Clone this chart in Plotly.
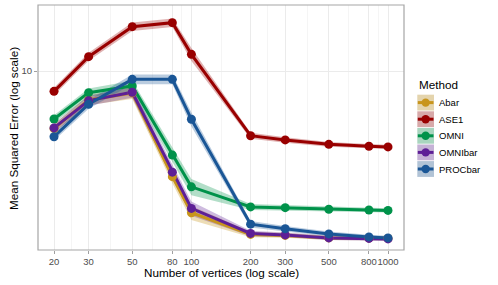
import plotly.graph_objects as go
import math

# ---------------- data ----------------
vertices = [20, 30, 50, 80, 100, 200, 300, 500, 800, 1000]
methods = ["Abar", "ASE1", "OMNI", "OMNIbar", "PROCbar"]

mse_abar    = [5.89, 7.66, 8.17, 3.78, 2.71, 2.22, 2.20, 2.15, 2.145, 2.14]
mse_ase1    = [8.29, 11.41, 15.04, 15.61, 11.66, 5.51, 5.30, 5.09, 5.00, 4.97]
mse_omni    = [6.43, 8.19, 8.71, 4.61, 3.44, 2.86, 2.84, 2.80, 2.78, 2.77]
mse_omnibar = [5.92, 7.61, 8.22, 3.94, 2.82, 2.24, 2.21, 2.15, 2.14, 2.13]
mse_procbar = [5.46, 7.36, 9.26, 9.26, 6.41, 2.44, 2.34, 2.23, 2.17, 2.15]

# relative half-width of the confidence ribbon
ci_abar    = [0.04, 0.045, 0.055, 0.06, 0.065, 0.025, 0.022, 0.02, 0.02, 0.02]
ci_ase1    = [0.035, 0.037, 0.04, 0.04, 0.06, 0.028, 0.025, 0.022, 0.02, 0.02]
ci_omni    = [0.035, 0.04, 0.05, 0.065, 0.075, 0.028, 0.025, 0.022, 0.02, 0.02]
ci_omnibar = [0.04, 0.045, 0.05, 0.06, 0.065, 0.025, 0.022, 0.02, 0.02, 0.02]
ci_procbar = [0.035, 0.04, 0.045, 0.045, 0.065, 0.03, 0.025, 0.022, 0.02, 0.02]

x_ticks = [20, 30, 50, 80, 100, 200, 300, 500, 800, 1000]
x_ticktext = ["20", "30", "50", "80", "100", "200", "300", "500", "800", "1000"]
y_ticks = [10]
y_ticktext = ["10"]

colors = {
    "Abar": "#C8951C",
    "ASE1": "#990000",
    "OMNI": "#00924A",
    "OMNIbar": "#5E1F96",
    "PROCbar": "#1A5696",
}
ribbon_rgba = {
    "Abar": "rgba(200,149,28,0.32)",
    "ASE1": "rgba(153,0,0,0.30)",
    "OMNI": "rgba(0,146,74,0.30)",
    "OMNIbar": "rgba(94,31,150,0.30)",
    "PROCbar": "rgba(26,86,150,0.30)",
}
series = {
    "Abar": (mse_abar, ci_abar),
    "ASE1": (mse_ase1, ci_ase1),
    "OMNI": (mse_omni, ci_omni),
    "OMNIbar": (mse_omnibar, ci_omnibar),
    "PROCbar": (mse_procbar, ci_procbar),
}

FONT = "Liberation Sans, Arial, sans-serif"
W, H = 498, 285
L, R, T, B = 38, 404, 5, 250

def px_x(p):
    return (p - L) / (R - L)

def px_y(p):
    return (B - p) / (B - T)

fig = go.Figure()

# ribbons
for m in methods:
    v, c = series[m]
    hi = [a * (1 + e) for a, e in zip(v, c)]
    lo = [a * (1 - e) for a, e in zip(v, c)]
    fig.add_trace(go.Scatter(
        x=vertices + vertices[::-1], y=hi + lo[::-1],
        fill="toself", fillcolor=ribbon_rgba[m], line=dict(width=0),
        mode="lines", hoverinfo="skip", showlegend=False))

# lines
for m in methods:
    v, _ = series[m]
    fig.add_trace(go.Scatter(x=vertices, y=v, mode="lines",
                             line=dict(color=colors[m], width=3),
                             showlegend=False, name=m))
# points
for m in methods:
    v, _ = series[m]
    fig.add_trace(go.Scatter(x=vertices, y=v, mode="markers",
                             marker=dict(color=colors[m], size=9),
                             showlegend=False, name=m))

minor_vals = [math.sqrt(a * b) for a, b in zip(x_ticks[:-1], x_ticks[1:])]

fig.update_xaxes(
    type="log", range=[1.2196, 3.0814],
    tickmode="array", tickvals=x_ticks, ticktext=x_ticktext, tickangle=0,
    automargin=False,
    showgrid=True, gridcolor="#ebebeb", gridwidth=1,
    minor=dict(tickmode="array", tickvals=minor_vals, showgrid=True,
               gridcolor="#f5f5f5", gridwidth=1, ticks=""),
    ticks="outside", ticklen=3, tickcolor="#a0a0a0", tickwidth=1,
    tickfont=dict(family=FONT, size=9.5, color="#4d4d4d"),
    zeroline=False, showline=False,
)
fig.update_yaxes(
    type="log", range=[0.284, 1.264],
    tickmode="array", tickvals=y_ticks, ticktext=y_ticktext, tickangle=0,
    automargin=False,
    showgrid=True, gridcolor="#ebebeb", gridwidth=1,
    ticks="outside", ticklen=3, tickcolor="#a0a0a0", tickwidth=1,
    tickfont=dict(family=FONT, size=9.5, color="#4d4d4d"),
    zeroline=False, showline=False,
)

shapes = [dict(type="rect", xref="paper", yref="paper", x0=0, x1=1, y0=0, y1=1,
               line=dict(color="#a6a6a6", width=1.2), fillcolor="rgba(0,0,0,0)",
               layer="above")]
annotations = [
    dict(text="Number of vertices (log scale)", xref="paper", yref="paper",
         x=0.5, y=px_y(272), xanchor="center", yanchor="middle", showarrow=False,
         font=dict(family=FONT, size=11.7, color="#000000")),
    dict(text="Mean Squared Error (log scale)", xref="paper", yref="paper",
         x=px_x(13), y=px_y(129), xanchor="center", yanchor="middle", showarrow=False,
         textangle=-90, font=dict(family=FONT, size=11.7, color="#000000")),
    dict(text="Method", xref="paper", yref="paper", x=px_x(417), y=px_y(84),
         xanchor="left", yanchor="middle", showarrow=False,
         font=dict(family=FONT, size=11.7, color="#000000")),
]

# manual legend (ggplot-style keys)
key_top = 94.3
key_h = 16.6
kx0, kx1 = 417.3, 434.0
for i, m in enumerate(methods):
    y0 = key_top + i * key_h
    y1 = y0 + key_h
    yc = (y0 + y1) / 2
    shapes.append(dict(type="rect", xref="paper", yref="paper",
                       x0=px_x(kx0), x1=px_x(kx1), y0=px_y(y1 - 0.4), y1=px_y(y0 + 0.4),
                       fillcolor="#f2f2f2", line=dict(width=0), layer="above"))
    shapes.append(dict(type="rect", xref="paper", yref="paper",
                       x0=px_x(kx0), x1=px_x(kx1), y0=px_y(y1 - 0.4), y1=px_y(y0 + 0.4),
                       fillcolor=ribbon_rgba[m], line=dict(width=0), layer="above"))
    shapes.append(dict(type="line", xref="paper", yref="paper",
                       x0=px_x(kx0 + 0.5), x1=px_x(kx1 - 0.5), y0=px_y(yc), y1=px_y(yc),
                       line=dict(color=colors[m], width=3), layer="above"))
    xc = (kx0 + kx1) / 2
    shapes.append(dict(type="circle", xref="paper", yref="paper",
                       x0=px_x(xc - 4.2), x1=px_x(xc + 4.2), y0=px_y(yc + 4.2), y1=px_y(yc - 4.2),
                       fillcolor=colors[m], line=dict(width=0), layer="above"))
    annotations.append(dict(text=m, xref="paper", yref="paper", x=px_x(436.5), y=px_y(yc),
                            xanchor="left", yanchor="middle", showarrow=False,
                            font=dict(family=FONT, size=9.5, color="#000000")))

fig.update_layout(
    width=W, height=H,
    margin=dict(l=L, r=W - R, t=T, b=H - B, pad=0, autoexpand=False),
    paper_bgcolor="white", plot_bgcolor="white",
    showlegend=False,
    shapes=shapes, annotations=annotations,
)

fig.write_html("out.html", config={"displayModeBar": False},
               post_script="document.body.style.margin='0';document.body.style.overflow='hidden';")
